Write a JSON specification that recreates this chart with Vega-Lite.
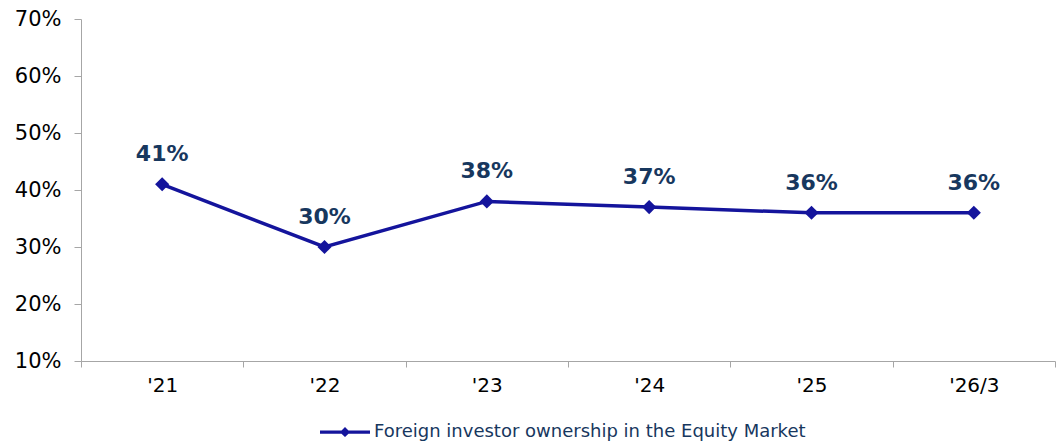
{
  "$schema": "https://vega.github.io/schema/vega-lite/v6.json",
  "autosize": {"type": "none"},
  "width": 974,
  "height": 342,
  "padding": {"left": 81, "top": 19, "right": 8, "bottom": 86},
  "background": "white",
  "config": {
    "view": {"stroke": null},
    "font": "DejaVu Sans"
  },
  "data": {
    "values": [
      {"year": "'21", "value": 0.41, "series": "Foreign investor ownership in the Equity Market"},
      {"year": "'22", "value": 0.30, "series": "Foreign investor ownership in the Equity Market"},
      {"year": "'23", "value": 0.38, "series": "Foreign investor ownership in the Equity Market"},
      {"year": "'24", "value": 0.37, "series": "Foreign investor ownership in the Equity Market"},
      {"year": "'25", "value": 0.36, "series": "Foreign investor ownership in the Equity Market"},
      {"year": "'26/3", "value": 0.36, "series": "Foreign investor ownership in the Equity Market"}
    ]
  },
  "encoding": {
    "x": {
      "field": "year", "type": "ordinal", "sort": null,
      "scale": {"type": "band", "paddingInner": 0, "paddingOuter": 0},
      "axis": {
        "title": null, "labelAngle": 0, "tickBand": "extent",
        "domainColor": "#a6a6a6", "tickColor": "#a6a6a6", "tickSize": 6,
        "labelFont": "DejaVu Sans", "labelFontSize": 20, "labelColor": "#000000",
        "labelPadding": 8
      }
    },
    "y": {
      "field": "value", "type": "quantitative",
      "scale": {"domain": [0.1, 0.7], "nice": false, "zero": false},
      "axis": {
        "title": null, "format": ".0%", "values": [0.1, 0.2, 0.3, 0.4, 0.5, 0.6, 0.7],
        "grid": false, "domainColor": "#a6a6a6", "tickColor": "#a6a6a6", "tickSize": 7,
        "labelFont": "DejaVu Sans", "labelFontSize": 21, "labelColor": "#000000",
        "labelPadding": 13
      }
    }
  },
  "layer": [
    {
      "mark": {"type": "line", "strokeWidth": 3.5},
      "encoding": {
        "color": {
          "field": "series", "type": "nominal",
          "scale": {"range": ["#14149c"]},
          "legend": {
            "title": null, "orient": "none", "legendX": 239, "legendY": 388,
            "symbolType": "M-1,-0.065L-0.14,-0.065L0,-0.2L0.14,-0.065L1,-0.065L1,0.065L0.14,0.065L0,0.2L-0.14,0.065L-1,0.065Z",
            "symbolSize": 2500, "labelOffset": 4,
            "labelFont": "DejaVu Sans", "labelFontSize": 18, "labelColor": "#17375e",
            "labelLimit": 700,
            "encode": {"symbols": {"update": {"fill": {"value": "#14149c"}, "stroke": {"value": "#14149c"}, "strokeWidth": {"value": 0}}}}
          }
        }
      }
    },
    {
      "mark": {"type": "point", "shape": "diamond", "filled": true, "size": 200, "opacity": 1, "color": "#14149c"}
    },
    {
      "mark": {"type": "text", "font": "DejaVu Sans", "fontSize": 22, "fontWeight": "bold", "color": "#17375e", "dy": -30, "baseline": "middle"},
      "encoding": {"text": {"field": "value", "type": "quantitative", "format": ".0%"}}
    }
  ]
}
